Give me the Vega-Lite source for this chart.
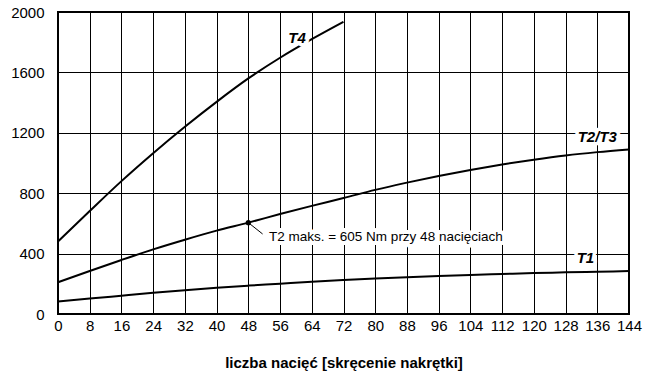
{
  "$schema": "https://vega.github.io/schema/vega-lite/v6.json",
  "width": 571,
  "height": 302,
  "autosize": {"type": "none"},
  "padding": {"left": 58, "top": 12, "right": 18, "bottom": 62},
  "background": "white",
  "config": {
    "font": "Liberation Sans",
    "view": {"stroke": "black", "strokeWidth": 2},
    "axis": {"labelFont": "Liberation Sans", "titleFont": "Liberation Sans"}
  },
  "datasets": {
    "curves": [
      {"s": "T4", "x": 0, "y": 480}, {"s": "T4", "x": 8, "y": 682}, {"s": "T4", "x": 16, "y": 880},
      {"s": "T4", "x": 24, "y": 1065}, {"s": "T4", "x": 32, "y": 1240}, {"s": "T4", "x": 40, "y": 1405},
      {"s": "T4", "x": 48, "y": 1560}, {"s": "T4", "x": 56, "y": 1697}, {"s": "T4", "x": 64, "y": 1820},
      {"s": "T4", "x": 72, "y": 1935},
      {"s": "T2/T3", "x": 0, "y": 210}, {"s": "T2/T3", "x": 8, "y": 285}, {"s": "T2/T3", "x": 16, "y": 358},
      {"s": "T2/T3", "x": 24, "y": 428}, {"s": "T2/T3", "x": 32, "y": 492}, {"s": "T2/T3", "x": 40, "y": 552},
      {"s": "T2/T3", "x": 48, "y": 605}, {"s": "T2/T3", "x": 56, "y": 662}, {"s": "T2/T3", "x": 64, "y": 716},
      {"s": "T2/T3", "x": 72, "y": 768}, {"s": "T2/T3", "x": 80, "y": 822}, {"s": "T2/T3", "x": 88, "y": 870},
      {"s": "T2/T3", "x": 96, "y": 914}, {"s": "T2/T3", "x": 104, "y": 954}, {"s": "T2/T3", "x": 112, "y": 990},
      {"s": "T2/T3", "x": 120, "y": 1022}, {"s": "T2/T3", "x": 128, "y": 1050}, {"s": "T2/T3", "x": 136, "y": 1072},
      {"s": "T2/T3", "x": 144, "y": 1090},
      {"s": "T1", "x": 0, "y": 82}, {"s": "T1", "x": 8, "y": 102}, {"s": "T1", "x": 16, "y": 121},
      {"s": "T1", "x": 24, "y": 140}, {"s": "T1", "x": 32, "y": 158}, {"s": "T1", "x": 40, "y": 174},
      {"s": "T1", "x": 48, "y": 188}, {"s": "T1", "x": 56, "y": 201}, {"s": "T1", "x": 64, "y": 214},
      {"s": "T1", "x": 72, "y": 225}, {"s": "T1", "x": 80, "y": 235}, {"s": "T1", "x": 88, "y": 244},
      {"s": "T1", "x": 96, "y": 252}, {"s": "T1", "x": 104, "y": 259}, {"s": "T1", "x": 112, "y": 265},
      {"s": "T1", "x": 120, "y": 271}, {"s": "T1", "x": 128, "y": 276}, {"s": "T1", "x": 136, "y": 280},
      {"s": "T1", "x": 144, "y": 284}
    ],
    "labels": [
      {"label": "T4", "x": 60.3, "y": 1828},
      {"label": "T2/T3", "x": 136, "y": 1174},
      {"label": "T1", "x": 133, "y": 371}
    ],
    "note": [
      {"x": 48, "y": 605, "x2": 51.6, "y2": 530, "tx": 53.2, "ty": 509, "text": "T2 maks. = 605 Nm przy 48 nacięciach"}
    ]
  },
  "encoding": {
    "x": {
      "type": "quantitative",
      "scale": {"domain": [0, 144], "nice": false, "zero": false},
      "axis": {
        "values": [0, 8, 16, 24, 32, 40, 48, 56, 64, 72, 80, 88, 96, 104, 112, 120, 128, 136, 144],
        "format": "d",
        "title": "liczba nacięć [skręcenie nakrętki]",
        "titleFontSize": 15, "titleFontWeight": "bold", "titleColor": "black", "titlePadding": 22,
        "labelFontSize": 15, "labelColor": "black", "labelPadding": 4,
        "ticks": false, "domain": false,
        "grid": true, "gridColor": "black", "gridOpacity": 1, "gridWidth": 1,
        "labelOverlap": false, "labelFlush": false
      }
    },
    "y": {
      "type": "quantitative",
      "scale": {"domain": [0, 2000], "nice": false},
      "axis": {
        "values": [0, 400, 800, 1200, 1600, 2000],
        "format": "d",
        "title": null,
        "labelFontSize": 15, "labelColor": "black", "labelPadding": 14,
        "ticks": false, "domain": false,
        "grid": true, "gridColor": "black", "gridOpacity": 1, "gridWidth": 1,
        "labelOverlap": false, "labelFlush": false
      }
    }
  },
  "layer": [
    {
      "data": {"name": "curves"},
      "mark": {"type": "line", "interpolate": "monotone", "color": "black", "strokeWidth": 2},
      "encoding": {
        "x": {"field": "x", "type": "quantitative"},
        "y": {"field": "y", "type": "quantitative"},
        "detail": {"field": "s", "type": "nominal"}
      }
    },
    {
      "data": {"name": "note"},
      "mark": {"type": "rule", "color": "black", "strokeWidth": 1},
      "encoding": {
        "x": {"field": "x", "type": "quantitative"},
        "y": {"field": "y", "type": "quantitative"},
        "x2": {"field": "x2"},
        "y2": {"field": "y2"}
      }
    },
    {
      "data": {"name": "note"},
      "mark": {"type": "point", "filled": true, "color": "black", "size": 28, "opacity": 1},
      "encoding": {
        "x": {"field": "x", "type": "quantitative"},
        "y": {"field": "y", "type": "quantitative"}
      }
    },
    {
      "data": {"name": "note"},
      "mark": {"type": "text", "align": "left", "baseline": "middle", "fontSize": 13.5, "color": "white", "stroke": "white", "strokeWidth": 8, "strokeJoin": "round"},
      "encoding": {
        "x": {"field": "tx", "type": "quantitative"},
        "y": {"field": "ty", "type": "quantitative"},
        "text": {"field": "text"}
      }
    },
    {
      "data": {"name": "note"},
      "mark": {"type": "text", "align": "left", "baseline": "middle", "fontSize": 13.5, "color": "black"},
      "encoding": {
        "x": {"field": "tx", "type": "quantitative"},
        "y": {"field": "ty", "type": "quantitative"},
        "text": {"field": "text"}
      }
    },
    {
      "data": {"name": "labels"},
      "mark": {"type": "text", "align": "center", "baseline": "middle", "fontSize": 15, "fontWeight": "bold", "fontStyle": "italic", "color": "white", "stroke": "white", "strokeWidth": 7, "strokeJoin": "round"},
      "encoding": {
        "x": {"field": "x", "type": "quantitative"},
        "y": {"field": "y", "type": "quantitative"},
        "text": {"field": "label"}
      }
    },
    {
      "data": {"name": "labels"},
      "mark": {"type": "text", "align": "center", "baseline": "middle", "fontSize": 15, "fontWeight": "bold", "fontStyle": "italic", "color": "black"},
      "encoding": {
        "x": {"field": "x", "type": "quantitative"},
        "y": {"field": "y", "type": "quantitative"},
        "text": {"field": "label"}
      }
    }
  ]
}
